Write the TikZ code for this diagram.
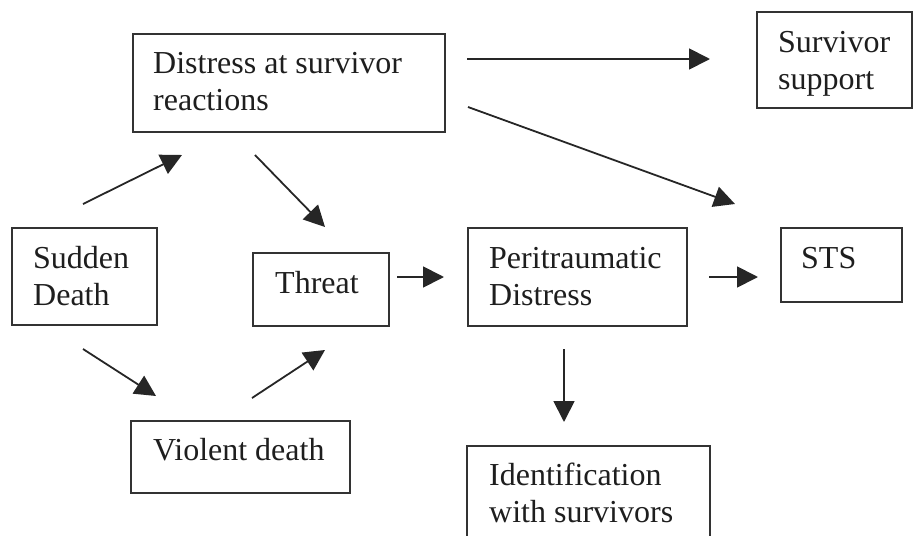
\documentclass[tikz,border=0pt]{standalone}
\usepackage{fontspec}
\setmainfont{Liberation Serif}
\usetikzlibrary{arrows.meta}
\definecolor{boxline}{HTML}{333333}
\definecolor{txtcol}{HTML}{1E1E1E}
\begin{document}
\begin{tikzpicture}[x=1pt,y=-1pt,
  box/.style={draw=boxline,line width=2.3pt},
  txt/.style={inner sep=0pt,anchor=base west,align=left,text=txtcol,font=\fontsize{32}{37}\selectfont},
  arr/.style={draw=black!85,line width=1.8pt,-{Triangle[length=21pt,width=21pt]}}]
\useasboundingbox (0,0) rectangle (914,536);
\clip (0,0) rectangle (914,536);
% boxes
\draw[box] (133,34) rectangle (445,132) node[pos=0.5,inner sep=0pt] (dsr) {};
\draw[box] (757,12) rectangle (912,108) node[pos=0.5,inner sep=0pt] (sup) {};
\draw[box] (12,228) rectangle (157,325) node[pos=0.5,inner sep=0pt] (sd) {};
\draw[box] (253,253) rectangle (389,326) node[pos=0.5,inner sep=0pt] (thr) {};
\draw[box] (131,421) rectangle (350,493) node[pos=0.5,inner sep=0pt] (vd) {};
\draw[box] (468,228) rectangle (687,326) node[pos=0.5,inner sep=0pt] (per) {};
\draw[box] (781,228) rectangle (902,302) node[pos=0.5,inner sep=0pt] (sts) {};
\draw[box] (467,446) rectangle (710,570) node[pos=0.5,inner sep=0pt] (idw) {};
% texts (base anchor = baseline of the last line)
\node[txt] (tdsr) at (153,110) {Distress at survivor\\reactions};
\node[txt] (tsup) at (778,89) {Survivor\\support};
\node[txt] (tsd) at (33,305) {Sudden\\Death};
\node[txt] (tthr) at (275,293) {Threat};
\node[txt] (tvd) at (153,460) {Violent death};
\node[txt] (tper) at (489,305) {Peritraumatic\\Distress};
\node[txt] (tsts) at (801,268) {STS};
\node[txt] (tidw) at (489,522) {Identification\\with survivors};
% arrow end points
\coordinate (a1s) at (467,59);  \coordinate (a1e) at (710,59);
\coordinate (a2s) at (468,107); \coordinate (a2e) at (735,204);
\coordinate (a3s) at (83,204);  \coordinate (a3e) at (182,155);
\coordinate (a4s) at (255,155); \coordinate (a4e) at (325,227);
\coordinate (a5s) at (83,349);  \coordinate (a5e) at (156,396);
\coordinate (a6s) at (252,398); \coordinate (a6e) at (325,350);
\coordinate (a7s) at (397,277); \coordinate (a7e) at (444,277);
\coordinate (a8s) at (709,277); \coordinate (a8e) at (758,277);
\coordinate (a9s) at (564,349); \coordinate (a9e) at (564,422);
\draw[arr] (a1s) -- (a1e);
\draw[arr] (a2s) -- (a2e);
\draw[arr] (a3s) -- (a3e);
\draw[arr] (a4s) -- (a4e);
\draw[arr] (a5s) -- (a5e);
\draw[arr] (a6s) -- (a6e);
\draw[arr] (a7s) -- (a7e);
\draw[arr] (a8s) -- (a8e);
\draw[arr] (a9s) -- (a9e);
\end{tikzpicture}
\end{document}
